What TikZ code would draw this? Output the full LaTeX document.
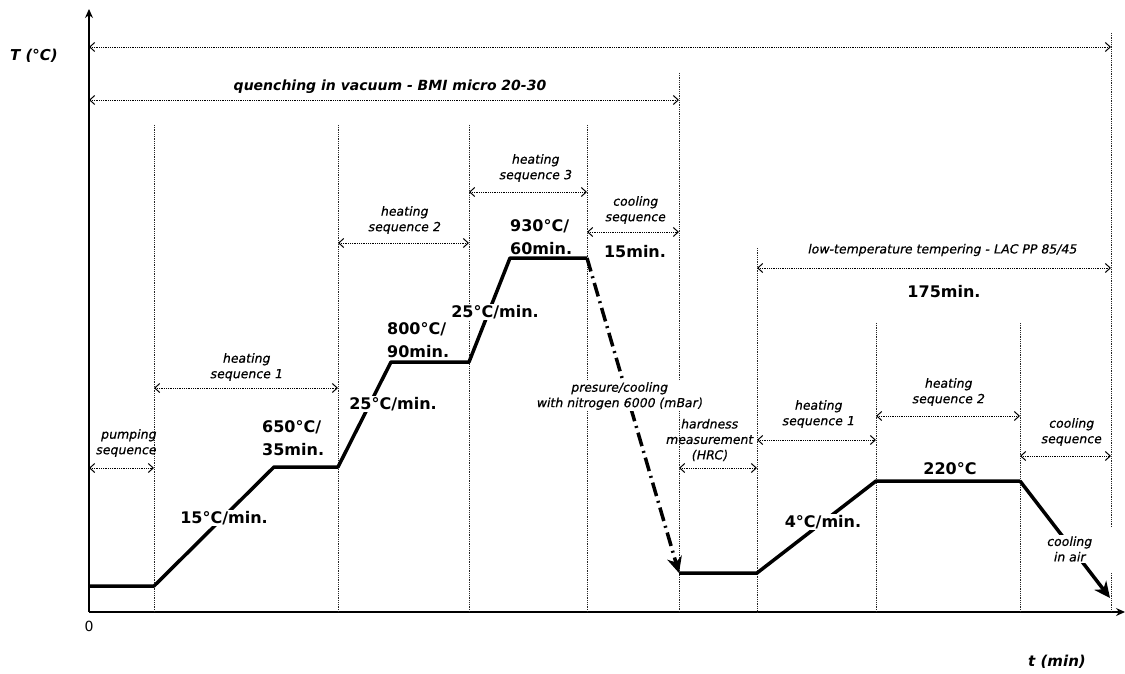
\documentclass[tikz,border=0pt]{standalone}
\usepackage{fontspec}
\setmainfont{DejaVu Sans}
\newfontfamily\labfont[FakeBold=0.6,FakeSlant=0.2]{DejaVu Sans}
\usetikzlibrary{arrows.meta}

\begin{document}
\begin{tikzpicture}[x=1pt, y=-1pt,
    sep/.style={densely dotted, line width=0.8pt, black!85},
    dim/.style={densely dotted, line width=0.8pt,
        {Straight Barb[length=5pt,width=9pt,line width=1pt]}-{Straight Barb[length=5pt,width=9pt,line width=1pt]}},
    prof/.style={line width=3.5pt, line join=round},
    lab/.style={font=\fontsize{12.5}{15.5}\selectfont\labfont, align=center, inner sep=1pt},
    rate/.style={font=\fontsize{16}{23}\selectfont\bfseries, inner sep=1pt},
    ttl/.style={font=\fontsize{14}{16}\selectfont\bfseries\itshape, inner sep=1pt}]

    \useasboundingbox (0,0) rectangle (1125,674);

    % Axes
    \draw[line width=1.2pt, -{Stealth[length=9pt,width=8pt]}] (89,612) -- (89,9);
    \draw[line width=1.2pt, -{Stealth[length=9pt,width=8pt]}] (89,612) -- (1125,612);
    \node[ttl, font=\fontsize{15}{16}\selectfont\bfseries\itshape] (Tlab) at (34,56) {T (°C)};
    \node[ttl, font=\fontsize{15}{16}\selectfont\bfseries\itshape] (tlab) at (1057,662) {t (min)};
    \node[font=\fontsize{14}{16}\selectfont] (zero) at (89,626) {0};

    % Stage borders
    \foreach \x/\top in {154/125, 338/125, 469/125, 587/125, 679/73, 757/248, 876/323, 1020/323}
        \draw[sep] (\x,\top) -- (\x,612);
    \draw[sep] (1111,33) -- (1111,527);
    \draw[sep] (1111,573) -- (1111,612);

    % Durations
    \draw[dim] (89,47) -- (1111,47);
    \draw[dim] (89,100) -- (679,100);
    \node[ttl] (quench) at (390,87) {quenching in vacuum - BMI micro 20-30};

    \draw[dim] (89,468) -- (154,468);
    \node[lab, align=right, anchor=east] (pump) at (157,443) {pumping\\sequence};

    \draw[dim] (154,388) -- (338,388);
    \node[lab] (heat1) at (246,367) {heating\\sequence 1};

    \draw[dim] (338,243) -- (469,243);
    \node[lab] (heat2) at (404,220) {heating\\sequence 2};

    \draw[dim] (469,192) -- (587,192);
    \node[lab] (heat3) at (535,168) {heating\\sequence 3};

    \draw[dim] (587,232) -- (679,232);
    \node[lab] (cool1) at (635,210) {cooling\\sequence};
    \node[rate] (t15) at (635,252) {15min.};

    \draw[dim] (757,268) -- (1111,268);
    \node[lab] (temper) at (942,250) {low-temperature tempering - LAC PP 85/45};
    \node[rate] (t175) at (944,292) {175min.};

    \draw[dim] (679,468) -- (757,468);
    \node[lab] (hard) at (709,440) {hardness\\measurement\\(HRC)};

    \draw[dim] (757,440) -- (876,440);
    \node[lab] (heat1b) at (818,414) {heating\\sequence 1};

    \draw[dim] (876,416) -- (1020,416);
    \node[lab] (heat2b) at (948,392) {heating\\sequence 2};

    \draw[dim] (1020,456) -- (1111,456);
    \node[lab] (cool2) at (1071,432) {cooling\\sequence};

    % Temperature profile
    \foreach \n/\p in {0/{89,586}, 1/{154,586}, 2/{274,467}, 3/{338,467}, 4/{391,362},
                      5/{469,362}, 6/{510,258}, 7/{587,258}, 8/{679,573}, 9/{757,573},
                      10/{876,481}, 11/{1020,481}, 12/{1110,598}}
        \coordinate (p\n) at (\p);
    \draw[prof] (p0) -- (p1) -- (p2) -- (p3) -- (p4) -- (p5) -- (p6) -- (p7);
    \draw[prof, dash pattern=on 14pt off 5pt on 2pt off 5pt,
        -{Stealth[length=16pt,width=15pt,inset=5pt]}] (p7) -- (p8);
    \draw[prof] (p8) -- (p9) -- (p10) -- (p11);
    \draw[prof, -{Stealth[length=16pt,width=15pt,inset=5pt]}] (p11) -- (p12);

    % Rates and holds
    \node[rate, fill=white] (r15) at (224,518) {15°C/min.};
    \node[rate, align=left, anchor=west] (t650) at (261,438) {650°C/\\35min.};
    \node[rate, fill=white] (r25a) at (393,404) {25°C/min.};
    \node[rate, align=left, anchor=west] (t800) at (386,340) {800°C/\\90min.};
    \node[rate, fill=white] (r25b) at (495,312) {25°C/min.};
    \node[rate, align=left, anchor=west] (t930) at (509,237) {930°C/\\60min.};
    \node[lab, fill=white] (pres) at (619,396) {presure/cooling\\with nitrogen 6000 (mBar)};
    \node[rate, fill=white] (r4) at (823,522) {4°C/min.};
    \node[rate] (t220) at (950,469) {220°C};
    \node[lab, fill=white] (air) at (1069,549) {cooling\\in air};

\end{tikzpicture}
\end{document}
